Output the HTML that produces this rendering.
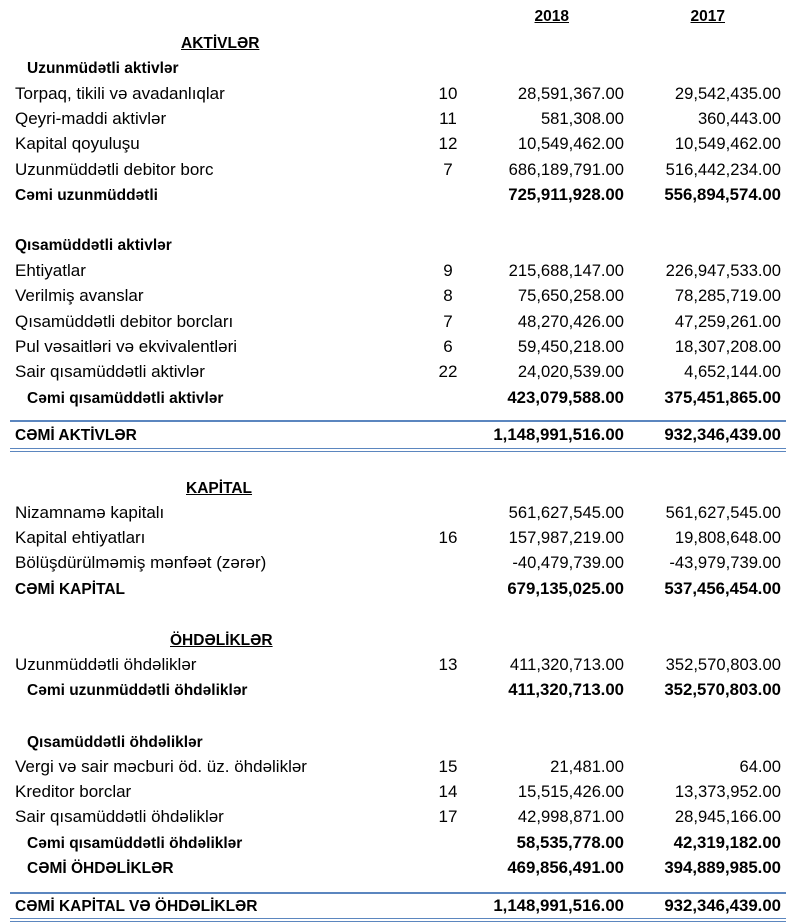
<!DOCTYPE html>
<html><head><meta charset="utf-8"><style>
body{margin:0;width:800px;height:923px;background:#fff;position:relative;overflow:hidden;font-family:"Liberation Sans",Arial,sans-serif;font-size:17px;color:#000}
.r{position:absolute;left:0;width:800px;height:20px;line-height:20px}
.r span{position:absolute;top:0;line-height:20px;white-space:nowrap}
.l{left:15px}
.n{left:418px;width:60px;text-align:center}
.a,.b{font-size:16.6px}
.a{right:176px;text-align:right}
.b{right:19px;text-align:right}
.bd{font-weight:bold;font-size:15.5px}
.bd .a,.bd .b{font-size:16.8px}
.r.bd .l{top:1px}
.r .i{left:27px}
u{text-decoration:underline}
.ln{position:absolute;left:10px;width:776px;background:#5b86bf}
</style></head><body>
<div class="r bd" style="top:7px"><span class="a" style="right:231px;font-size:15.5px"><u>2018</u></span><span class="b" style="right:75px;font-size:15.5px"><u>2017</u></span></div>
<div class="r bd" style="top:33px"><span class="l" style="left:181px"><u>AKTİVLƏR</u></span></div>
<div class="r bd" style="top:58px"><span class="l i">Uzunmüdətli aktivlər</span></div>
<div class="r" style="top:84px"><span class="l">Torpaq, tikili və avadanlıqlar</span><span class="n">10</span><span class="a">28,591,367.00</span><span class="b">29,542,435.00</span></div>
<div class="r" style="top:109px"><span class="l">Qeyri-maddi aktivlər</span><span class="n">11</span><span class="a">581,308.00</span><span class="b">360,443.00</span></div>
<div class="r" style="top:134px"><span class="l">Kapital qoyuluşu</span><span class="n">12</span><span class="a">10,549,462.00</span><span class="b">10,549,462.00</span></div>
<div class="r" style="top:160px"><span class="l">Uzunmüddətli debitor borc</span><span class="n">7</span><span class="a">686,189,791.00</span><span class="b">516,442,234.00</span></div>
<div class="r bd" style="top:185px"><span class="l">Cəmi uzunmüddətli</span><span class="a">725,911,928.00</span><span class="b">556,894,574.00</span></div>
<div class="r bd" style="top:235px"><span class="l">Qısamüddətli aktivlər</span></div>
<div class="r" style="top:261px"><span class="l">Ehtiyatlar</span><span class="n">9</span><span class="a">215,688,147.00</span><span class="b">226,947,533.00</span></div>
<div class="r" style="top:286px"><span class="l">Verilmiş avanslar</span><span class="n">8</span><span class="a">75,650,258.00</span><span class="b">78,285,719.00</span></div>
<div class="r" style="top:312px"><span class="l">Qısamüddətli debitor borcları</span><span class="n">7</span><span class="a">48,270,426.00</span><span class="b">47,259,261.00</span></div>
<div class="r" style="top:337px"><span class="l">Pul vəsaitləri və ekvivalentləri</span><span class="n">6</span><span class="a">59,450,218.00</span><span class="b">18,307,208.00</span></div>
<div class="r" style="top:362px"><span class="l">Sair qısamüddətli aktivlər</span><span class="n">22</span><span class="a">24,020,539.00</span><span class="b">4,652,144.00</span></div>
<div class="r bd" style="top:388px"><span class="l i">Cəmi qısamüddətli aktivlər</span><span class="a">423,079,588.00</span><span class="b">375,451,865.00</span></div>
<div class="ln" style="top:420px;height:2px"></div>
<div class="r bd" style="top:425px"><span class="l">CƏMİ AKTİVLƏR</span><span class="a">1,148,991,516.00</span><span class="b">932,346,439.00</span></div>
<div class="ln" style="top:448px;height:1px"></div><div class="ln" style="top:451px;height:1px"></div>
<div class="r bd" style="top:478px"><span class="l" style="left:186px"><u>KAPİTAL</u></span></div>
<div class="r" style="top:503px"><span class="l">Nizamnamə kapitalı</span><span class="a">561,627,545.00</span><span class="b">561,627,545.00</span></div>
<div class="r" style="top:528px"><span class="l">Kapital ehtiyatları</span><span class="n">16</span><span class="a">157,987,219.00</span><span class="b">19,808,648.00</span></div>
<div class="r" style="top:553px"><span class="l">Bölüşdürülməmiş mənfəət (zərər)</span><span class="a">-40,479,739.00</span><span class="b">-43,979,739.00</span></div>
<div class="r bd" style="top:579px"><span class="l">CƏMİ KAPİTAL</span><span class="a">679,135,025.00</span><span class="b">537,456,454.00</span></div>
<div class="r bd" style="top:630px"><span class="l" style="left:170px"><u>ÖHDƏLİKLƏR</u></span></div>
<div class="r" style="top:655px"><span class="l">Uzunmüddətli öhdəliklər</span><span class="n">13</span><span class="a">411,320,713.00</span><span class="b">352,570,803.00</span></div>
<div class="r bd" style="top:680px"><span class="l i">Cəmi uzunmüddətli öhdəliklər</span><span class="a">411,320,713.00</span><span class="b">352,570,803.00</span></div>
<div class="r bd" style="top:732px"><span class="l i">Qısamüddətli öhdəliklər</span></div>
<div class="r" style="top:757px"><span class="l">Vergi və sair məcburi öd. üz. öhdəliklər</span><span class="n">15</span><span class="a">21,481.00</span><span class="b">64.00</span></div>
<div class="r" style="top:782px"><span class="l">Kreditor borclar</span><span class="n">14</span><span class="a">15,515,426.00</span><span class="b">13,373,952.00</span></div>
<div class="r" style="top:807px"><span class="l">Sair qısamüddətli öhdəliklər</span><span class="n">17</span><span class="a">42,998,871.00</span><span class="b">28,945,166.00</span></div>
<div class="r bd" style="top:833px"><span class="l i">Cəmi qısamüddətli öhdəliklər</span><span class="a">58,535,778.00</span><span class="b">42,319,182.00</span></div>
<div class="r bd" style="top:858px"><span class="l i">CƏMİ ÖHDƏLİKLƏR</span><span class="a">469,856,491.00</span><span class="b">394,889,985.00</span></div>
<div class="ln" style="top:892px;height:2px"></div>
<div class="r bd" style="top:896px"><span class="l">CƏMİ KAPİTAL VƏ ÖHDƏLİKLƏR</span><span class="a">1,148,991,516.00</span><span class="b">932,346,439.00</span></div>
<div class="ln" style="top:918px;height:1px"></div><div class="ln" style="top:921px;height:1px"></div>
</body></html>
